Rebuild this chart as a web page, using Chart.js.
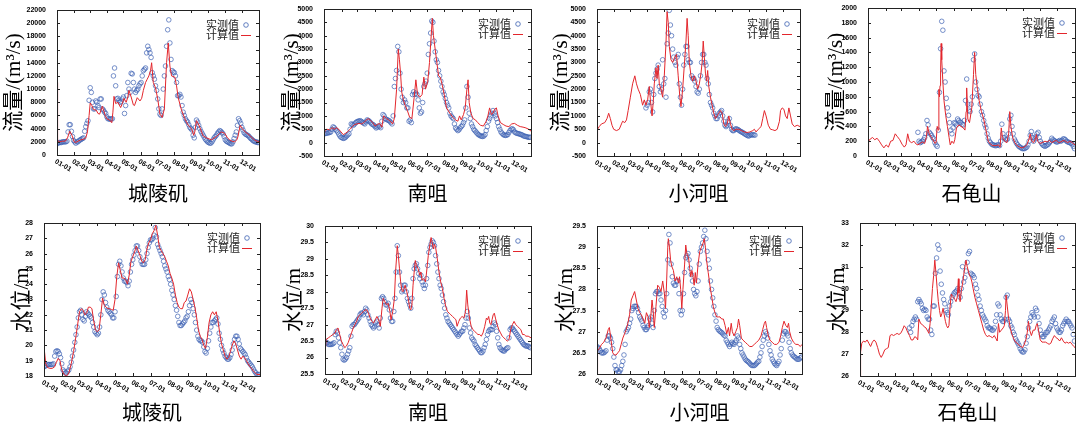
<!DOCTYPE html>
<html>
<head>
<meta charset="utf-8">
<script src="https://cdn.jsdelivr.net/npm/chart.js@4.4.1/dist/chart.umd.min.js"></script>
<style>
  html, body { margin: 0; padding: 0; background: #fff; }
  #wrap { position: relative; width: 1084px; height: 427px; overflow: hidden; }
  #wrap div { position: absolute; }
</style>
</head>
<body>
<div id="wrap"></div>
<script>
const monthStarts = [0, 31, 59, 90, 120, 151, 181, 212, 243, 273, 304, 334];
const monthLabels = ['01-01', '02-01', '03-01', '04-01', '05-01', '06-01', '07-01', '08-01', '09-01', '10-01', '11-01', '12-01'];

// measured values, one every 2 days
const obsDays = [0,2,4,6,8,10,12,14,16,18,20,22,24,26,28,30,32,34,36,38,
  40,42,44,46,48,50,52,54,56,58,60,62,64,66,68,70,72,74,76,78,
  80,82,84,86,88,90,92,94,96,98,100,102,104,106,108,110,112,114,116,118,
  120,122,124,126,128,130,132,134,136,138,140,142,144,146,148,150,152,154,156,158,
  160,162,164,166,168,170,172,174,176,178,180,182,184,186,188,190,192,194,196,198,
  200,202,204,206,208,210,212,214,216,218,220,222,224,226,228,230,232,234,236,238,
  240,242,244,246,248,250,252,254,256,258,260,262,264,266,268,270,272,274,276,278,
  280,282,284,286,288,290,292,294,296,298,300,302,304,306,308,310,312,314,316,318,
  320,322,324,326,328,330,332,334,336,338,340,342,344,346,348,350,352,354,356,358,
  360,362,364];

// 城陵矶 flow
const obsQA = [1700,1800,1900,1900,1900,2000,2000,2000,2000,2100,
  3500,4600,4600,3600,2800,2200,2000,1800,2000,2000,
  2200,2300,2400,2500,2600,3600,4300,4800,5200,8300,
  10200,9500,8000,7000,7000,8200,8000,7500,7200,8500,
  8500,7000,6800,6500,6300,5800,5500,5500,5400,5500,
  5500,12000,13200,10500,8500,8600,8300,8000,8100,8500,
  8800,6300,7500,9000,11000,10000,9500,12400,12300,11000,
  10000,9500,9800,10000,10500,10800,11000,12000,12800,13000,
  13200,15500,16500,16000,15500,14800,12500,12000,11500,10500,
  9800,8500,7000,6200,6000,7000,10000,12000,13500,16500,
  19000,20500,17000,14500,12800,12600,12500,12000,11000,9000,
  9000,9200,8800,7500,6500,6000,5500,5200,5000,4600,
  4200,4000,3800,3000,2600,4200,5300,5000,4500,4000,
  3600,3300,3000,2700,2400,2200,2000,1900,1800,1800,
  2000,2300,2600,2800,3000,3300,3500,3700,3600,3400,
  3200,2800,2300,2100,2000,1900,1800,1700,1700,2000,
  2500,3000,3500,4500,5500,5200,4800,4200,3800,3400,
  3200,3100,3000,2900,2700,2500,2400,2200,2100,2000,
  2000,1900,1900];
const calcDaysQA = [0,1,5,10,15,19,23,27,31,34,38,43,48,52,55,58,60,63,66,71,74,77,82,87,90,95,99,101,103,106,110,115,118,121,125,128,130,134,138,140,145,150,153,156,160,163,166,169,171,174,178,182,186,190,194,198,201,204,207,213,216,219,225,231,237,243,247,249,252,255,258,264,270,279,288,294,297,303,308,312,316,321,325,327,331,335,340,345,349,354,358,362,365];
const calcQA = [11000,2200,2000,2100,2100,2600,3600,3000,2000,1900,
  2100,2300,2400,2600,3500,6000,7900,7500,6900,6800,
  6300,6200,7400,6000,5500,5300,4900,6500,8900,7800,
  8000,7200,7800,8600,8000,8800,9800,8800,7600,7500,
  8700,8200,8600,9800,11000,11500,12000,12800,14000,11000,
  10200,8500,6200,5700,7000,14000,17000,13500,12000,11800,
  10500,8700,6800,5500,4500,4000,3000,3500,5200,4800,
  4200,2900,2600,2300,2800,3300,3500,3300,2600,2300,
  2100,2000,2300,2800,4500,4000,3500,3200,2900,2500,
  2200,2100,2000];

// 南咀 flow
const obsQB = [330,340,350,360,370,380,400,500,590,560,
  500,450,400,320,250,200,180,160,170,200,
  250,290,330,500,700,680,650,700,750,780,
  800,810,820,790,760,730,700,780,850,830,
  800,750,700,680,650,600,550,580,620,600,
  560,800,1050,1000,900,870,850,830,800,750,
  700,1000,2100,2400,2700,3600,3400,2600,2000,1700,
  1500,1600,1500,1300,1300,800,850,750,1800,1900,
  1800,1850,1800,1600,1300,1100,1150,1500,2100,2200,
  2300,2600,3300,3700,4100,4550,4500,3800,3400,3100,
  3000,2700,2500,2300,2100,1900,1800,1650,1500,1400,
  1300,1100,1000,950,900,700,550,500,450,480,
  550,600,650,750,850,1300,2100,1700,1100,900,
  700,600,500,450,400,350,300,280,250,240,
  230,250,300,450,600,800,900,1000,1100,1200,
  1100,1000,900,750,600,500,400,350,300,280,
  270,280,300,380,450,500,520,480,400,370,
  350,340,330,310,300,280,250,240,230,220,
  200,200,200];
const calcDaysQB = [0,2,5,10,14,18,22,26,30,34,38,42,46,50,54,58,62,66,70,74,78,82,86,90,94,98,102,105,110,114,118,121,124,128,131,133,135,137,140,143,147,151,155,159,162,165,169,173,176,179,183,186,189,191,193,196,199,202,205,208,212,216,222,227,232,236,239,242,246,249,252,254,256,259,263,267,271,276,281,286,289,292,295,298,301,304,307,311,316,321,326,331,336,341,346,351,356,361,365];
const calcQB = [250,480,500,480,560,500,560,500,400,300,
  350,420,500,600,680,700,720,700,750,830,
  900,830,750,620,680,720,580,1000,900,850,
  780,700,900,2000,3500,3100,2600,1900,1600,1400,
  1200,950,900,1700,2350,1800,1700,1800,2450,2000,
  2300,3000,4000,4650,4000,3500,3000,2500,2450,2200,
  1800,1300,1100,950,850,800,1000,850,1050,1300,
  2000,2350,1500,1100,900,850,750,650,620,800,
  1000,1300,1050,1100,1250,1300,1000,750,680,620,
  600,700,720,650,600,580,550,500,430];

// 小河咀 flow
const obsQC = [null,null,null,null,null,null,null,null,null,null,
  null,null,null,null,null,null,null,null,null,null,
  null,null,null,null,null,null,null,null,null,null,
  null,null,null,null,null,null,null,null,null,null,
  null,null,null,null,1300,1400,1500,1900,2000,1500,
  1150,1800,2400,2600,2750,2900,2100,1900,2000,3100,
  2200,2400,1700,3700,4100,4950,4400,4000,3500,3200,
  3000,2900,3200,3300,2200,1700,1400,2000,2900,3300,
  3600,3600,3100,3000,3000,2500,2400,2400,2300,2100,
  1900,1850,2000,2500,3000,3300,3300,3000,2900,2400,
  2200,1800,1500,1400,1300,1100,1000,900,900,1000,
  1100,1150,1200,1000,800,650,600,650,800,900,
  650,500,450,450,500,520,500,480,450,420,
  400,380,350,320,300,270,250,260,300,280,
  300,290,280,null,null,null,null,null,null,null,
  null,null,null,null,null,null,null,null,null,null,
  null,null,null,null,null,null,null,null,null,null,
  null,null,null,null,null,null,null,null,null,null,
  null,null,null];
const calcDaysQC = [0,1,4,8,14,18,21,24,27,30,35,40,44,46,50,53,56,60,64,68,71,74,78,82,85,88,91,94,96,99,101,103,106,108,110,112,115,118,121,124,126,128,130,133,136,140,143,146,149,151,154,157,160,162,164,166,169,172,175,178,181,184,187,189,191,193,195,197,199,201,204,207,210,213,216,219,222,225,228,231,234,237,240,243,246,250,255,260,265,270,275,280,283,286,290,295,298,301,304,308,312,316,320,324,328,330,333,336,339,342,345,348,351,355,360,365];
const calcQC = [50,500,600,700,750,900,1100,900,650,500,
  450,500,700,800,750,850,1200,1700,2200,2500,
  2200,2000,1800,1400,1600,1400,1600,2100,1600,1000,
  1500,2200,2800,2400,2900,2200,2000,1700,2500,3700,
  4900,4500,3600,3100,3000,3200,3300,2500,1700,1350,
  2000,2900,3800,4650,4000,3000,2500,2300,2500,2300,
  2000,2200,2600,3000,3800,3200,2600,2300,2700,2100,
  1700,1400,1100,900,1000,1100,1200,1100,700,600,
  700,1000,700,500,450,500,500,450,400,380,
  400,450,500,400,500,600,900,1200,1000,650,
  500,480,450,500,800,1200,1300,1250,1000,900,
  1300,1000,700,600,650,600];

// 石龟山 flow
const obsQD = [null,null,null,null,null,null,null,null,null,null,
  null,null,null,null,null,null,null,null,null,null,
  null,null,null,null,null,null,null,null,null,null,
  null,null,null,null,null,null,null,null,null,null,
  null,null,null,null,320,200,180,190,200,220,
  250,300,480,420,320,300,280,250,230,180,
  150,130,350,860,1450,1820,1700,1150,1000,780,
  650,550,450,350,300,380,450,440,420,500,
  480,460,450,430,420,480,750,1040,700,620,
  600,700,800,1300,1380,1000,900,820,800,700,
  600,550,480,420,380,300,240,200,180,160,
  150,150,140,140,150,150,140,200,430,300,
  250,230,220,230,300,500,550,400,300,230,
  200,170,150,130,120,110,100,100,100,110,
  120,150,200,280,330,250,200,230,260,300,
  320,250,200,170,150,140,130,140,150,160,
  180,200,240,220,210,200,190,190,200,210,
  200,210,230,230,220,200,190,185,180,170,
  160,130,100];
const calcDaysQD = [0,1,4,8,12,16,20,24,28,32,36,40,44,48,52,56,60,64,67,70,73,77,81,85,88,92,96,100,103,105,108,112,116,118,120,122,124,125,126,127,128,129,130,132,134,137,140,143,145,148,151,153,156,160,164,168,171,173,174,176,179,183,186,188,190,193,196,200,204,208,212,216,220,226,230,233,235,237,241,245,248,250,252,255,259,263,267,271,275,280,284,286,289,292,295,297,299,303,307,312,316,320,324,328,332,336,340,344,348,352,356,360,365];
const calcQD = [0,200,230,250,220,240,200,150,110,150,
  120,200,210,300,260,220,160,120,150,300,
  200,180,200,160,150,170,190,170,260,400,
  300,250,200,170,180,400,350,900,800,950,
  1150,1520,1300,1000,750,550,400,250,150,200,
  170,220,380,420,400,380,350,600,920,500,
  450,650,1100,1400,1100,900,750,600,500,350,
  200,160,140,140,150,120,380,250,200,180,
  300,600,400,250,180,140,120,110,120,150,
  230,300,200,180,230,290,200,170,180,200,
  190,210,180,200,210,180,190,210,200,180,
  200,180,150];

// 城陵矶 level
const obsZE = [18.6,18.65,18.7,18.75,18.75,18.75,18.75,18.75,18.8,19.3,
  19.6,19.65,19.6,19.45,19.2,18.8,18.4,18.3,18.2,18.2,
  18.3,18.4,18.6,18.9,19.3,19.7,20.2,20.7,21.2,21.8,
  22.2,22.3,22.0,21.7,21.6,21.9,22.2,22.1,22.0,21.9,
  21.8,21.5,21.2,20.9,20.8,20.7,20.8,21.2,22.0,23.0,
  23.5,23.3,22.8,22.5,22.3,22.2,22.1,22.0,21.8,21.8,
  22.2,23.2,24.5,25.3,25.5,25.2,24.8,24.4,24.2,24.2,
  24.1,23.9,24.2,24.8,25.3,25.6,25.9,26.2,26.5,26.5,
  26.2,25.8,25.5,25.3,25.3,25.3,25.6,26.0,26.4,26.7,
  26.9,26.9,27.0,27.2,27.7,27.1,26.6,26.4,26.2,26.0,
  25.8,25.5,25.2,25.0,24.8,24.5,24.3,24.0,23.6,23.3,
  23.0,22.6,22.3,21.9,21.5,21.3,21.3,21.4,21.5,21.6,
  21.8,21.9,22.2,22.6,23.0,22.8,22.4,22.0,21.5,21.0,
  20.6,20.4,20.3,20.3,20.2,19.9,19.6,19.5,19.8,20.3,
  20.8,21.2,21.5,21.5,21.6,21.7,21.8,21.4,20.8,20.4,
  20.0,19.7,19.5,19.3,19.2,19.1,19.1,19.2,19.4,19.7,
  20.1,20.4,20.6,20.6,20.4,20.1,19.8,19.7,19.6,19.5,
  19.4,19.2,19.0,18.9,18.8,18.7,18.6,18.45,18.3,18.2,
  18.1,18.1,18.1];
const calcDaysZE = [0,3,6,10,14,18,21,24,27,30,34,38,42,46,50,54,57,60,63,66,69,72,75,78,81,84,87,90,93,96,99,102,105,108,111,114,117,120,123,126,129,132,135,138,141,144,147,150,153,156,159,162,165,168,171,174,177,180,183,186,189,192,195,198,201,204,207,210,213,216,219,222,225,228,231,234,237,240,243,246,249,252,255,258,261,264,267,270,273,276,279,282,285,288,291,294,297,300,303,306,309,312,315,318,321,324,327,330,333,336,339,342,345,348,351,354,357,360,365];
const calcZE = [19.9,18.8,18.55,18.5,18.5,18.6,18.9,19.15,19.0,18.4,
  18.1,18.0,18.2,18.8,19.6,20.6,21.4,22.2,22.4,22.3,
  22.0,22.1,22.5,22.5,22.4,21.6,21.0,20.9,21.0,22.0,
  23.1,22.6,22.5,22.4,22.4,22.35,22.3,23.0,24.5,25.4,
  24.9,24.4,24.4,24.3,24.0,24.6,25.5,25.8,26.1,26.5,
  26.2,25.9,25.5,25.4,25.6,26.3,26.7,26.9,27.3,27.5,
  27.85,27.2,26.4,26.2,26.0,25.8,25.5,25.2,24.7,24.4,
  24.0,23.3,22.8,22.5,22.4,22.4,22.8,22.9,23.3,23.7,
  23.5,23.0,22.5,21.8,21.0,20.6,20.4,20.0,19.8,20.5,
  21.5,22.0,22.2,22.0,22.2,21.6,20.8,20.1,19.7,19.3,
  19.1,19.2,19.6,20.0,20.3,20.1,19.7,19.3,19.1,19.3,
  19.2,19.0,18.8,18.6,18.5,18.3,18.2,18.1,18.1];

// 南咀 level
const obsZF = [26.5,26.45,26.45,26.4,26.4,26.4,26.4,26.42,26.45,26.7,
  26.8,26.75,26.6,26.45,26.3,26.1,25.95,25.92,25.95,26.0,
  26.1,26.2,26.3,26.65,26.95,27.0,27.0,27.05,27.1,27.15,
  27.2,27.3,27.35,27.35,27.3,27.4,27.5,27.45,27.3,27.2,
  27.1,27.0,26.95,26.9,26.95,27.05,27.1,27.0,26.9,27.2,
  27.8,27.85,27.8,27.7,27.6,27.6,27.65,27.45,27.2,27.1,
  27.1,27.4,27.8,28.6,29.4,29.1,28.6,28.2,28.0,28.05,
  28.2,28.2,28.0,27.8,27.7,27.6,27.5,27.8,28.4,28.7,
  28.8,28.85,28.7,28.55,28.4,28.5,28.3,28.2,28.1,28.2,
  28.4,28.8,29.2,29.35,29.45,29.55,29.5,29.4,29.1,28.85,
  28.6,28.4,28.2,28.1,27.9,27.7,27.5,27.3,27.2,27.1,
  27.05,27.0,26.95,26.9,26.85,26.8,26.75,26.7,26.65,26.7,
  26.75,26.8,26.8,26.9,27.0,27.2,27.4,27.2,26.9,26.75,
  26.6,26.55,26.5,26.4,26.35,26.3,26.25,26.2,26.15,26.15,
  26.2,26.3,26.4,26.55,26.7,26.8,26.85,26.85,26.85,26.95,
  27.05,27.0,26.8,26.6,26.4,26.3,26.25,26.22,26.2,26.2,
  26.25,26.28,26.3,26.6,26.85,26.9,26.9,26.85,26.8,26.75,
  26.7,26.65,26.6,26.55,26.5,26.45,26.4,26.38,26.35,26.35,
  26.35,26.32,26.3];
const calcDaysZF = [0,2,6,10,14,18,20,23,26,29,32,35,38,41,44,47,50,53,56,59,62,65,68,71,74,77,80,83,86,89,92,95,98,101,103,106,109,112,115,117,120,123,125,127,128,130,132,134,136,138,140,142,145,148,150,152,154,156,158,160,162,165,168,170,172,175,178,180,183,186,188,190,192,194,196,199,202,205,208,211,214,217,220,223,226,229,232,234,237,240,243,246,249,251,253,256,259,262,265,268,271,274,277,280,283,286,288,290,292,294,296,298,300,302,305,308,311,314,317,320,323,326,329,332,335,338,341,344,347,350,353,356,360,365];
const calcZF = [26.1,26.55,26.6,26.65,26.7,26.75,26.85,26.9,26.7,26.5,
  26.4,26.3,26.35,26.45,26.6,26.75,26.9,27.0,27.1,27.25,
  27.3,27.35,27.4,27.45,27.45,27.35,27.2,27.1,27.05,27.15,
  27.25,27.15,26.95,27.5,27.8,27.7,27.6,27.65,27.4,27.15,
  27.4,27.8,28.6,29.1,29.4,29.1,28.7,28.3,28.05,28.0,
  28.1,28.2,28.0,27.75,27.5,27.45,27.6,28.2,28.6,28.95,
  28.8,28.7,28.5,28.6,28.35,28.4,28.3,28.6,29.1,29.45,
  29.65,29.5,29.3,29.45,29.35,29.0,28.6,28.3,28.1,27.8,
  27.55,27.4,27.35,27.3,27.25,27.2,27.15,26.95,27.1,27.2,
  27.25,27.2,27.4,28.05,27.6,27.2,26.95,26.85,26.8,26.75,
  26.7,26.7,26.65,26.75,26.95,27.2,27.15,27.25,27.05,27.0,
  27.15,27.3,27.35,27.2,27.0,26.85,26.75,26.65,26.6,26.55,
  26.5,26.55,26.85,27.0,27.1,27.0,26.95,26.9,26.85,26.7,
  26.7,26.65,26.65,26.6];

// 小河咀 level
const obsZG = [26.65,26.62,26.6,26.55,26.5,26.5,26.5,26.52,26.55,26.8,
  26.9,26.9,26.85,26.75,26.6,26.4,26.2,26.1,26.1,26.05,
  26.05,26.1,26.2,26.3,26.45,26.7,27.0,27.05,27.1,27.2,
  27.3,27.5,27.55,27.6,27.6,27.6,27.55,27.45,27.35,27.3,
  27.25,27.15,27.1,27.05,27.05,27.1,27.15,27.3,27.35,27.2,
  27.1,27.5,27.9,27.95,27.95,27.9,27.9,27.75,27.6,27.45,
  27.35,27.5,27.9,28.7,29.3,29.1,28.6,28.3,28.15,28.1,
  28.1,28.2,28.2,27.9,27.5,27.4,27.5,27.9,28.4,28.75,
  28.8,28.85,28.7,28.5,28.35,28.2,28.0,27.9,27.85,27.95,
  28.2,28.6,28.9,29.0,29.1,29.25,29.4,29.2,28.9,28.7,
  28.5,28.2,28.0,27.8,27.6,27.4,27.25,27.1,27.05,27.02,
  27.0,26.98,26.95,26.92,26.9,26.8,26.75,26.7,26.65,26.7,
  26.75,26.72,26.7,26.75,26.8,26.9,26.85,26.7,26.6,26.5,
  26.45,26.4,26.35,26.32,26.3,26.28,26.25,26.22,26.2,26.2,
  26.2,26.22,26.25,26.28,26.3,26.4,26.5,26.65,26.8,26.9,
  27.0,26.95,26.85,26.7,26.55,26.45,26.35,26.3,26.25,26.22,
  26.2,26.25,26.3,26.45,26.6,26.8,26.95,27.0,27.0,26.95,
  26.9,26.75,26.6,26.5,26.45,26.42,26.4,26.38,26.35,26.35,
  26.35,26.38,26.4];
const calcDaysZG = [0,1,4,8,12,16,20,22,25,28,31,34,37,40,43,46,49,52,55,58,61,64,67,70,73,76,79,82,85,88,91,93,96,98,100,102,105,108,111,114,117,120,122,124,126,127,129,131,133,136,139,142,145,147,149,151,153,156,158,160,163,165,167,169,171,173,175,177,180,183,186,189,191,193,195,198,201,204,207,210,213,216,219,222,225,228,231,234,236,239,241,244,247,250,252,254,257,260,264,268,272,276,280,284,288,292,295,298,300,302,305,308,312,316,320,324,327,330,333,336,339,341,343,346,350,354,358,362,365];
const calcZG = [26.0,26.55,26.6,26.7,26.75,26.85,27.05,27.1,26.8,26.5,
  26.45,26.45,26.5,26.55,26.7,26.85,26.95,27.05,27.2,27.4,
  27.75,27.85,27.95,27.75,27.55,27.45,27.4,27.3,27.2,27.45,
  27.35,27.1,27.4,27.75,27.5,27.1,27.6,28.1,28.05,27.95,
  28.2,27.9,27.55,28.2,29.0,29.2,29.0,28.7,28.55,28.45,
  28.2,28.3,28.15,28.3,28.0,27.55,28.0,28.6,29.05,28.85,
  28.75,28.5,28.3,28.45,28.3,28.1,28.4,28.15,28.6,28.9,
  29.0,29.1,29.2,29.0,28.7,28.4,28.1,27.85,27.6,27.45,
  27.35,27.35,27.35,27.3,27.3,27.15,26.95,27.1,26.9,27.2,
  27.0,26.9,27.0,27.1,27.3,27.15,26.85,26.8,26.75,26.7,
  26.65,26.65,26.7,26.75,26.8,26.9,27.05,27.2,27.25,27.1,
  26.9,26.8,26.75,26.7,26.7,26.75,26.9,27.1,27.25,27.15,
  27.1,27.2,27.0,26.85,26.75,26.7,26.7,26.65,26.7];

// 石龟山 level
const obsZH = [null,null,null,null,null,null,null,null,null,null,
  null,null,null,null,null,null,null,null,null,null,
  null,null,null,null,null,null,null,null,null,null,
  null,null,null,null,null,null,null,null,null,null,
  null,null,28.2,28.0,28.3,28.5,28.6,28.7,28.6,29.4,
  29.5,29.4,29.3,29.1,29.0,29.05,29.0,28.7,28.6,28.6,
  28.1,27.9,29.2,29.2,30.7,31.4,32.0,31.8,30.8,30.2,
  29.8,29.5,29.3,29.0,28.9,28.8,29.2,29.4,29.6,29.7,
  29.8,29.85,29.9,30.0,29.8,29.6,30.0,31.0,30.3,30.5,
  30.8,31.2,31.6,31.7,30.7,30.65,30.6,30.5,30.2,30.0,
  29.7,29.5,29.2,29.0,28.8,28.7,28.6,28.5,28.3,28.2,
  28.2,28.15,28.1,28.1,28.2,28.5,28.8,29.3,29.2,28.8,
  28.6,28.5,28.5,28.6,29.6,29.7,28.6,28.5,28.3,28.2,
  28.0,27.9,27.7,27.6,27.5,27.4,27.25,27.15,27.1,27.1,
  27.2,27.5,27.8,28.2,28.5,28.7,28.9,28.8,28.7,29.1,
  29.0,28.7,28.4,28.1,27.9,27.8,27.8,27.9,28.0,28.0,
  28.1,28.2,28.3,28.5,28.6,28.7,28.4,28.2,28.1,28.0,
  28.0,28.1,28.3,28.4,28.5,28.6,28.5,28.5,28.4,28.3,
  28.2,27.9,27.6];
const calcDaysZH = [0,1,3,6,9,12,15,18,21,24,27,30,33,36,39,42,45,48,51,54,57,60,63,66,69,72,75,78,81,84,87,90,93,96,98,100,103,106,109,112,115,117,119,121,123,125,127,129,131,133,135,137,139,141,143,145,147,149,151,153,155,157,159,161,163,165,167,168,170,172,174,176,178,180,182,184,186,188,190,192,195,198,201,204,207,210,213,216,219,222,225,228,231,233,235,237,240,243,245,247,248,250,252,255,258,261,264,267,270,273,276,279,282,284,286,288,291,294,297,299,301,303,306,309,312,315,318,321,324,327,330,333,336,339,342,345,348,351,354,357,360,363,365];
const calcZH = [26.0,27.1,27.5,27.6,27.55,27.65,27.5,27.35,27.55,27.65,
  27.55,27.3,27.0,26.85,27.0,27.2,27.25,27.3,27.85,27.9,
  27.85,27.9,27.95,27.9,27.95,28.1,28.3,28.2,28.0,27.85,
  27.65,27.65,27.8,27.75,27.65,28.6,28.4,28.35,28.25,28.2,
  28.05,27.95,28.4,29.2,30.0,30.6,31.3,30.7,30.0,29.4,
  29.0,28.7,28.85,29.1,28.8,28.5,28.3,28.2,28.3,29.2,
  29.75,29.65,29.6,29.5,29.4,29.6,30.45,29.8,29.4,29.9,
  30.2,30.6,31.0,31.3,31.0,30.8,30.6,30.5,30.3,30.0,
  29.6,29.3,29.0,28.7,28.4,28.1,27.9,27.8,27.85,27.8,
  27.75,27.85,27.7,27.6,28.4,28.0,28.1,28.2,28.3,29.0,
  29.7,29.2,28.7,28.2,27.9,27.7,27.55,27.5,27.4,27.35,
  27.3,27.45,27.7,28.0,28.5,28.1,27.85,28.1,28.1,28.3,
  28.4,28.1,27.65,27.55,27.55,27.55,27.5,27.45,27.5,27.7,
  27.85,27.75,27.7,27.6,27.75,27.6,27.5,27.55,27.5,27.55,
  27.45,27.35,27.3];

const RED = '#e3262c';
const BLUE = '#3d62b3';
const SANS = '"Liberation Sans", Arial, sans-serif';
const SERIF = '"Liberation Serif", "Noto Sans CJK SC", serif';
const CJK = '"Noto Sans CJK SC", sans-serif';
const flowTitle = '流量/(m³/s)';
const levelTitle = '水位/m';

const panels = [
  { station: '城陵矶', yTitle: flowTitle, min: 0, max: 22000, step: 2000, days: calcDaysQA, calc: calcQA, obs: obsQA,
    cell: [0, 0, 270, 212], area: [57, 259, 10, 155], axisLeft: 2, titleY: 193 },
  { station: '南咀', yTitle: flowTitle, min: -500, max: 5000, step: 500, days: calcDaysQB, calc: calcQB, obs: obsQB,
    cell: [270, 0, 270, 212], area: [324, 531, 9, 156], axisLeft: 280, titleY: 193 },
  { station: '小河咀', yTitle: flowTitle, min: -500, max: 5000, step: 500, days: calcDaysQC, calc: calcQC, obs: obsQC,
    cell: [540, 0, 270, 212], area: [597, 800, 9, 156], axisLeft: 549, titleY: 193 },
  { station: '石龟山', yTitle: flowTitle, min: 0, max: 2000, step: 200, days: calcDaysQD, calc: calcQD, obs: obsQD,
    cell: [810, 0, 274, 212], area: [868, 1075, 8, 156], axisLeft: 824, titleY: 193 },
  { station: '城陵矶', yTitle: levelTitle, min: 18, max: 28, step: 1, days: calcDaysZE, calc: calcZE, obs: obsZE,
    cell: [0, 212, 270, 215], area: [44, 260, 223, 376], axisLeft: 10, titleY: 412 },
  { station: '南咀', yTitle: levelTitle, min: 25.5, max: 30, step: 0.5, days: calcDaysZF, calc: calcZF, obs: obsZF,
    cell: [270, 212, 270, 215], area: [325, 531, 226, 374], axisLeft: 282, titleY: 412 },
  { station: '小河咀', yTitle: levelTitle, min: 26, max: 29.5, step: 0.5, days: calcDaysZG, calc: calcZG, obs: obsZG,
    cell: [540, 212, 270, 215], area: [597, 802, 226, 374], axisLeft: 554, titleY: 412 },
  { station: '石龟山', yTitle: levelTitle, min: 26, max: 33, step: 1, days: calcDaysZH, calc: calcZH, obs: obsZH,
    cell: [810, 212, 274, 215], area: [860, 1075, 223, 376], axisLeft: 826, titleY: 412 }
];

// gnuplot-like frame: box, inward ticks, slanted date labels, legend
const frame = {
  id: 'frame',
  afterDatasetsDraw(chart) {
    const {ctx, chartArea: a, scales: {x, y}} = chart;
    ctx.save();
    ctx.strokeStyle = '#222';
    ctx.lineWidth = 1;
    ctx.beginPath();
    y.ticks.forEach(t => {
      const py = Math.round(y.getPixelForValue(t.value)) + 0.5;
      ctx.moveTo(a.left, py); ctx.lineTo(a.left + 3, py);
      ctx.moveTo(a.right, py); ctx.lineTo(a.right - 3, py);
    });
    monthStarts.forEach(d => {
      const px = Math.round(x.getPixelForValue(d)) + 0.5;
      ctx.moveTo(px, a.bottom); ctx.lineTo(px, a.bottom - 3);
      ctx.moveTo(px, a.top); ctx.lineTo(px, a.top + 3);
    });
    ctx.stroke();
    ctx.strokeRect(Math.round(a.left) + 0.5, Math.round(a.top) + 0.5,
      Math.round(a.right - a.left), Math.round(a.bottom - a.top));

    ctx.fillStyle = '#000';
    ctx.font = 'bold 7px ' + SANS;
    ctx.textAlign = 'left';
    ctx.textBaseline = 'top';
    monthStarts.forEach((d, i) => {
      ctx.save();
      ctx.translate(x.getPixelForValue(d), a.bottom + 3);
      ctx.rotate(Math.PI / 6);
      ctx.fillText(monthLabels[i], 0, 0);
      ctx.restore();
    });

    // legend
    ctx.font = '11px ' + CJK;
    ctx.fillStyle = '#222';
    ctx.textAlign = 'right';
    ctx.textBaseline = 'middle';
    ctx.fillText('实测值', a.right - 20, a.top + 15);
    ctx.fillText('计算值', a.right - 20, a.top + 25);
    ctx.strokeStyle = BLUE;
    ctx.lineWidth = 0.8;
    ctx.beginPath();
    ctx.arc(a.right - 13, a.top + 15, 2.3, 0, Math.PI * 2);
    ctx.stroke();
    ctx.strokeStyle = RED;
    ctx.lineWidth = 1;
    ctx.beginPath();
    ctx.moveTo(a.right - 18, a.top + 25.5);
    ctx.lineTo(a.right - 8, a.top + 25.5);
    ctx.stroke();
    ctx.restore();
  }
};

const wrap = document.getElementById('wrap');

function makeChart(p) {
  const [cx, cy, cw, ch] = p.cell;
  const [l, r, t, b] = p.area;
  const titleBottom = p.titleY + 12;

  const box = document.createElement('div');
  box.style.left = cx + 'px';
  box.style.top = cy + 'px';
  box.style.width = cw + 'px';
  box.style.height = ch + 'px';
  const canvas = document.createElement('canvas');
  canvas.width = cw;
  canvas.height = ch;
  box.appendChild(canvas);
  wrap.appendChild(box);

  return new Chart(canvas, {
    type: 'scatter',
    data: {
      datasets: [{
        label: '计算值',
        data: p.days.map((d, i) => ({x: d, y: p.calc[i]})),
        showLine: true,
        borderColor: RED,
        borderWidth: 1,
        pointRadius: 0,
        order: 0
      }, {
        label: '实测值',
        data: obsDays.map((d, i) => ({x: d, y: p.obs[i]})),
        pointRadius: 2.3,
        borderWidth: 0.7,
        borderColor: BLUE,
        backgroundColor: 'rgba(0,0,0,0)',
        order: 1
      }]
    },
    options: {
      responsive: false,
      animation: false,
      events: [],
      layout: {
        padding: {left: p.axisLeft - cx, right: cx + cw - r, top: t - cy, bottom: cy + ch - titleBottom}
      },
      plugins: {
        legend: {display: false},
        tooltip: {enabled: false}
      },
      scales: {
        x: {
          type: 'linear',
          min: 0,
          max: 365,
          grid: {display: false},
          border: {display: false},
          ticks: {display: false},
          title: {display: true, text: p.station, color: '#000', padding: 0, font: {family: CJK, size: 20}},
          afterFit: s => { s.height = titleBottom - b; }
        },
        y: {
          min: p.min,
          max: p.max,
          grid: {display: false},
          border: {display: false},
          ticks: {
            stepSize: p.step,
            autoSkip: false,
            color: '#000',
            padding: 3,
            font: {family: SANS, size: 7, weight: 'bold'},
            callback: v => String(+v.toFixed(2))
          },
          title: {display: true, text: p.yTitle, color: '#000', padding: 0, font: {family: SERIF, size: 21}},
          afterFit: s => { s.width = l - p.axisLeft; }
        }
      }
    },
    plugins: [frame]
  });
}

panels.forEach(makeChart);
</script>
</body>
</html>
